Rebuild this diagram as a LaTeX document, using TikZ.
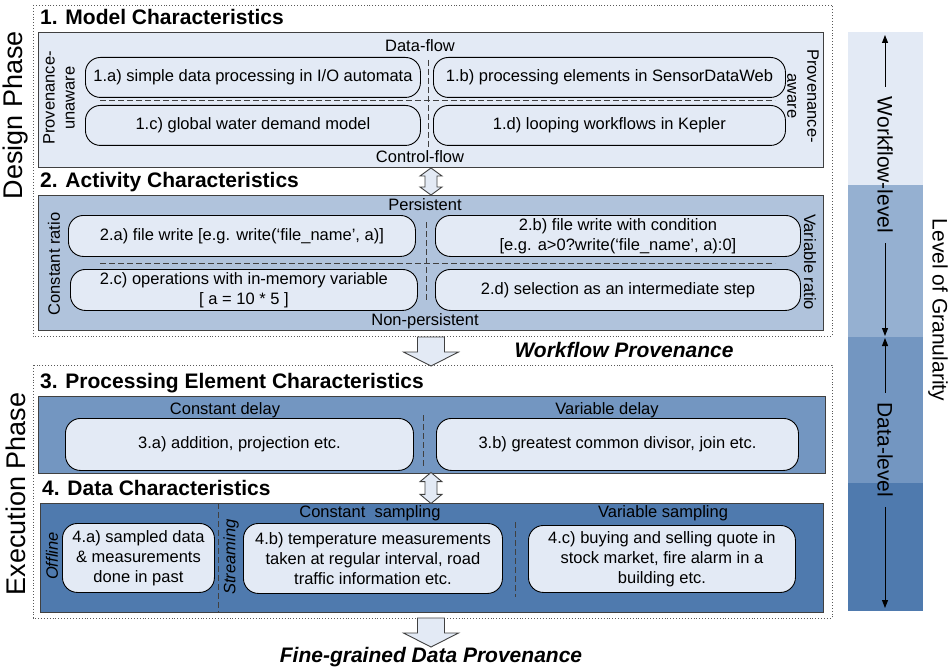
\documentclass[tikz,border=0pt]{standalone}
\usepackage{fontspec}
\setmainfont{Liberation Sans}
\usetikzlibrary{positioning,arrows.meta,calc}
\definecolor{paleblue}{HTML}{E3EAF5}
\definecolor{softblue}{HTML}{B0C3DC}
\definecolor{barblue}{HTML}{95B0D1}
\definecolor{midblue}{HTML}{7396C1}
\definecolor{deepblue}{HTML}{4F7AAE}
\definecolor{edgegray}{HTML}{404040}

\begin{document}
\begin{tikzpicture}[
  x=1pt, y=-1pt,
  txt/.style={font=\fontsize{16.5}{20}\selectfont, align=center, inner sep=0pt},
  item/.style 2 args={draw=black, line width=0.9pt, fill=paleblue, rounded corners=15pt,
                      anchor=north west, inner sep=0pt, align=center,
                      font=\fontsize{16.5}{20}\selectfont,
                      minimum width=#1, minimum height=#2},
  panel/.style={draw=edgegray, line width=1pt},
  phase/.style={draw=black!65, line width=0.9pt, dash pattern=on 0.9pt off 2pt},
  title/.style={font=\fontsize{21}{24}\selectfont\bfseries, anchor=base west, inner sep=0pt},
  sep/.style={draw=edgegray, line width=0.9pt, dash pattern=on 6pt off 3pt},
  side/.style={font=\fontsize{27}{31}\selectfont, rotate=90, inner sep=0pt},
  prov/.style={font=\fontsize{21}{24}\selectfont\bfseries\itshape, inner sep=0pt},
  lvl/.style={font=\fontsize{21}{24}\selectfont, rotate=-90, inner xsep=10pt, inner ysep=0pt},
  lvlarr/.style={-{Triangle[length=8pt,width=6pt]}, line width=1pt},
  blockarr/.style={draw=edgegray, line width=0.9pt, fill=paleblue, line join=miter},
  updown/.pic={\path[blockarr] (0,-13.5) -- (11,-5.5) -- (6,-5.5) -- (6,5.5) -- (11,5.5)
                 -- (0,13.5) -- (-11,5.5) -- (-6,5.5) -- (-6,-5.5) -- (-11,-5.5) -- cycle;},
  downarr/.pic={\path[blockarr] (-13.5,0) -- (13.5,0) -- (13.5,15) -- (27.5,15) -- (0,29)
                 -- (-27.5,15) -- (-13.5,15) -- cycle;}
]
\useasboundingbox (0,0) rectangle (952,671);

% ---------------- Phases ----------------
\draw[phase] (33,5) rectangle (832,336);
\draw[phase] (33,365) rectangle (832,618);
\node[side] (dp) at (16,115) {Design Phase};
\node[side] (ep) at (16,494) {Execution Phase};

% ---------------- 1. Model characteristics ----------------
\node[title] (t1) at (40,25) {1. Model Characteristics};
\draw[panel, fill=paleblue] (38,33) rectangle (823,168);
\node[txt] (df) at (420,46) {Data-flow};
\node[txt] (cf) at (420,157) {Control-flow};
\node[txt, rotate=90] (pu) at (59,98) {Provenance-\\unaware};
\node[txt, rotate=-90] (pa) at (803,96) {Provenance-\\aware};
\draw[sep] (100,100) -- (775,100);
\draw[sep] (428,60) -- (428,147);
\node[item={335pt}{40pt}] (m1a) at (85,57) {1.a) simple data processing in I/O automata};
\node[item={352pt}{40pt}] (m1b) at (433,57) {1.b) processing elements in SensorDataWeb};
\node[item={335pt}{40pt}] (m1c) at (85,105) {1.c) global water demand model};
\node[item={352pt}{40pt}] (m1d) at (433,105) {1.d) looping workflows in Kepler};

\pic (a12) at (431,181.5) {updown};

% ---------------- 2. Activity characteristics ----------------
\node[title] (t2) at (40,187) {2. Activity Characteristics};
\draw[panel, fill=softblue] (38,195) rectangle (823,330);
\node[txt] (ps) at (425,205) {Persistent};
\node[txt] (np) at (425,321) {Non-persistent};
\node[txt, rotate=90] (cr) at (54,264) {Constant ratio};
\node[txt, rotate=-90] (vr) at (810,262) {Variable ratio};
\draw[sep] (100,263) -- (775,263);
\draw[sep] (426,222) -- (426,300);
\node[item={347pt}{41pt}] (a2a) at (68,215) {2.a) file write [e.g. write(‘file\_name’, a)]};
\node[item={365pt}{41pt}] (a2b) at (435,215) {2.b) file write with condition\\{}[e.g. a>0?write(‘file\_name’, a):0]};
\node[item={347pt}{41pt}] (a2c) at (70,269) {2.c) operations with in-memory variable\\{}[ a = 10 * 5 ]};
\node[item={365pt}{41pt}] (a2d) at (435,269) {2.d) selection as an intermediate step};

\pic (a23) at (431,337) {downarr};
\node[prov] (wp) at (624,350) {Workflow Provenance};

% ---------------- 3. Processing element characteristics ----------------
\node[title] (t3) at (40,388) {3. Processing Element Characteristics};
\draw[panel, fill=midblue] (38,396) rectangle (825,473);
\node[txt] (cd) at (225,410) {Constant delay};
\node[txt] (vd) at (607,410) {Variable delay};
\draw[sep] (423,415) -- (423,467);
\node[item={348pt}{52pt}] (p3a) at (65,418) {3.a) addition, projection etc.};
\node[item={362pt}{52pt}] (p3b) at (436,418) {3.b) greatest common divisor, join etc.};

\pic[yscale=1.15] (a34) at (431,488) {updown};

% ---------------- 4. Data characteristics ----------------
\node[title] (t4) at (42,495) {4. Data Characteristics};
\draw[panel, fill=deepblue] (40,503) rectangle (823,612);
\draw[sep] (218,503) -- (218,612);
\draw[sep] (515,522) -- (515,597);
\node[txt, rotate=90, font=\fontsize{16.5}{20}\selectfont\itshape] (off) at (52,556) {Offline};
\node[txt, rotate=90, font=\fontsize{16.5}{20}\selectfont\itshape] (str) at (231,557) {Streaming};
\node[txt] (cs) at (370,513) {Constant\ \ sampling};
\node[txt] (vs) at (663,513) {Variable sampling};
\node[item={152pt}{69pt}] (d4a) at (62,523) {4.a) sampled data\\\& measurements\\done in past};
\node[item={259pt}{70pt}] (d4b) at (243,523) {4.b) temperature measurements\\taken at regular interval, road\\traffic information etc.};
\node[item={267pt}{67pt}] (d4c) at (528,525) {4.c) buying and selling quote in\\stock market, fire alarm in a\\building etc.};

\pic (a4o) at (431,618) {downarr};
\node[prov] (fp) at (431,657) {Fine-grained Data Provenance};

% ---------------- Level of granularity ----------------
\fill[paleblue] (848,32) rectangle (923,185);
\fill[barblue] (848,185) rectangle (923,337);
\fill[midblue] (848,337) rectangle (923,483);
\fill[deepblue] (848,483) rectangle (923,611);
\coordinate (bartop) at (885,35);
\coordinate (wfend) at (885,336);
\coordinate (dtstart) at (885,338);
\coordinate (barbot) at (885,608);
\node[lvl] (wfl) at (885,165) {Workflow-level};
\node[lvl] (dtl) at (885,450) {Data-level};
\draw[lvlarr] (wfl) -- (bartop);
\draw[lvlarr] (wfl) -- (wfend);
\draw[lvlarr] (dtl) -- (dtstart);
\draw[lvlarr] (dtl) -- (barbot);
\node[font=\fontsize{21}{24}\selectfont, rotate=-90, inner sep=0pt] (log) at (938,310) {Level of Granularity};
\end{tikzpicture}
\end{document}
